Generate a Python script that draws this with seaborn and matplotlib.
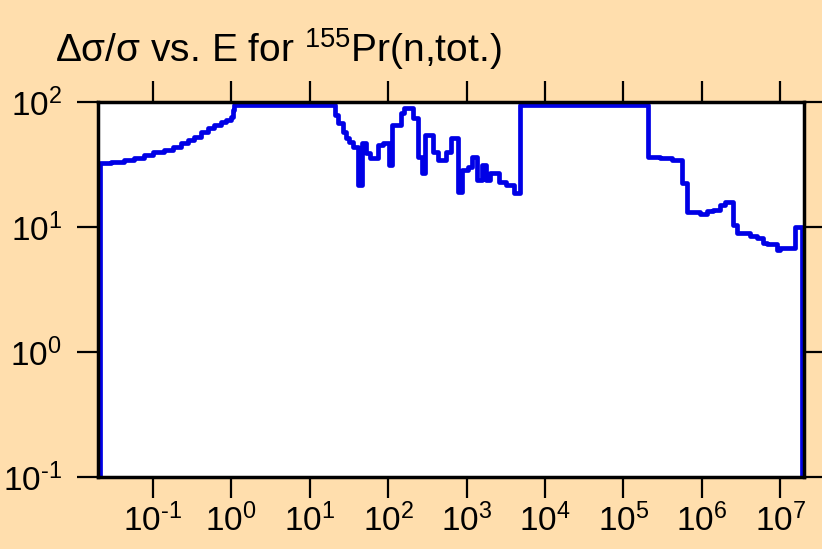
import numpy as np
import pandas as pd
import matplotlib
matplotlib.use("Agg")
import matplotlib.pyplot as plt
import seaborn as sns

# lower bin edges (eV) and relative uncertainty (%)
energy = [0.021, 0.029, 0.043, 0.057, 0.077, 0.10, 0.138, 0.180, 0.228, 0.279,
          0.333, 0.408, 0.502, 0.598, 0.734, 0.851, 0.986, 1.045, 1.076,
          20.8, 22.7, 26.3, 28.8, 31.4, 35.3, 40.9, 45.9, 51.7, 58.1,
          73.5, 85.1, 101, 111, 144, 157, 205, 238, 267, 292,
          369, 428, 540, 625, 768, 864, 1030, 1158, 1340, 1553,
          1746, 1963, 2557, 3141, 3972, 4733,
          2.08e5, 2.96e5, 4.21e5, 5.65e5, 6.53e5, 9.57e5, 1.17e6, 1.40e6, 1.72e6,
          1.99e6, 2.52e6, 2.83e6, 4.15e6, 5.09e6, 6.07e6, 6.82e6, 9.16e6, 1.0e7, 1.55e7]
rel_unc = [32.5, 33.1, 34.4, 35.6, 37.7, 39.8, 41.3, 43.7, 47.0, 49.7,
           52.5, 57.5, 61.9, 65.5, 69.2, 71.8, 75.9, 86.3, 95,
           78.7, 67.9, 57.5, 51.5, 47.9, 43.7, 21.7, 47.0, 39.1, 35.6,
           45.3, 47.0, 31.3, 65.5, 81.7, 89.5, 74.5, 36.3, 27.0, 54.5,
           39.8, 34.4, 39.8, 51.5, 19.1, 28.6, 30.2, 36.3, 23.8, 31.3,
           23.8, 27.0, 22.9, 21.7, 18.7, 95,
           36.3, 35.6, 34.4, 22.5, 13.2, 12.7, 13.4, 13.7, 15.0,
           15.8, 10.4, 8.95, 8.47, 8.17, 7.45, 7.31, 6.55, 6.79, 10.0]
e_max = 1.91e7
floor = 1e-3   # outside the evaluated range, falls off the axis

x_ticks = [1e-1, 1e0, 1e1, 1e2, 1e3, 1e4, 1e5, 1e6, 1e7]
x_labels = [r"$10^{\text{-1}}$", r"$10^{0}$", r"$10^{1}$", r"$10^{2}$", r"$10^{3}$",
            r"$10^{4}$", r"$10^{5}$", r"$10^{6}$", r"$10^{7}$"]
y_ticks = [1e-1, 1e0, 1e1, 1e2]
y_labels = [r"$10^{\text{-1}}$", r"$10^{0}$", r"$10^{1}$", r"$10^{2}$"]

bg = "#FFDEAD"
blue = "#0000E6"

sns.set_theme(style="ticks")
plt.rcParams["font.family"] = ["Liberation Sans", "DejaVu Sans"]
plt.rcParams["mathtext.fontset"] = "custom"
plt.rcParams["mathtext.rm"] = "Liberation Sans"
plt.rcParams["mathtext.it"] = "Liberation Sans:italic"
plt.rcParams["mathtext.bf"] = "Liberation Sans:bold"

df = pd.DataFrame({
    "E": np.r_[energy[0], energy, e_max],
    "unc": np.r_[floor, rel_unc, floor],
})

fig = plt.figure(figsize=(8.22, 5.49), dpi=100, facecolor=bg)
ax = fig.add_axes([98 / 822, 1 - 477 / 549, 706 / 822, 375 / 549])
ax.set_facecolor("white")
ax.set(xscale="log", yscale="log")

sns.lineplot(data=df, x="E", y="unc", estimator=None, sort=False,
             drawstyle="steps-post", color=blue, linewidth=3.4, ax=ax)

ax.set_xlim(0.02, 2e7)
ax.set_ylim(0.1, 100)
ax.set_xticks(x_ticks, x_labels)
ax.set_yticks(y_ticks, y_labels)
ax.minorticks_off()
ax.set_xlabel("")
ax.set_ylabel("")

for s in ax.spines.values():
    s.set_visible(True)
    s.set_color("black")
    s.set_linewidth(2.5)
    s.set_zorder(3)

ax.tick_params(axis="both", which="major", direction="out", length=15, width=1.6,
               color="black", labelsize=24, labelcolor="black",
               top=True, right=True, labeltop=False, labelright=False)
ax.tick_params(axis="x", pad=4)
ax.tick_params(axis="y", pad=11)

fig.text(55 / 822, 1 - 62 / 549, r"Δσ/σ vs. E for $^{155}$Pr(n,tot.)",
         fontsize=28, color="black", ha="left", va="baseline")

fig.savefig("out.png", dpi=100, facecolor=bg)
